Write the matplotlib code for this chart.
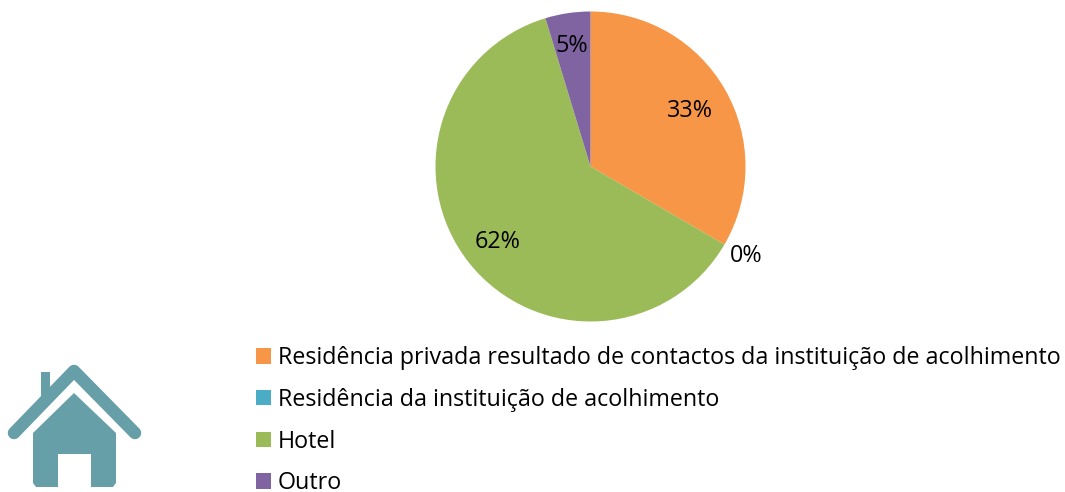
import matplotlib
matplotlib.use("Agg")
import matplotlib.pyplot as plt
from matplotlib.patches import Polygon, Rectangle
from matplotlib.lines import Line2D

categories = ["Residência privada resultado de contactos da instituição de acolhimento",
              "Residência da instituição de acolhimento", "Hotel", "Outro"]
values = [33.4, 0.0, 61.9, 4.7]
colors = ["#F79646", "#4BACC6", "#9BBB59", "#8064A2"]
label_px = [(690, 111), (746, 256), (498, 242), (572, 46)]

W, H = 1065, 492
plt.rcParams["font.family"] = ["Open Sans", "DejaVu Sans"]
fig = plt.figure(figsize=(W / 100, H / 100), dpi=100)

# overlay in pixel coordinates for the icon
bg = fig.add_axes([0, 0, 1, 1])
bg.set_xlim(0, W)
bg.set_ylim(H, 0)
bg.axis("off")

cx, cy, r = 590.5, 166.5, 155
ax = fig.add_axes([(cx - r) / W, 1 - (cy + r) / H, 2 * r / W, 2 * r / H])
wedges, _, autotexts = ax.pie(values, colors=colors, startangle=90, counterclock=False,
                              radius=1, autopct="%.0f%%",
                              textprops=dict(fontsize=16.8, color="black"))
ax.set_xlim(-1, 1)
ax.set_ylim(-1, 1)
for t, (px, py) in zip(autotexts, label_px):
    t.set_position(((px - cx) / r, (cy - py) / r))
    t.set_ha("center")
    t.set_va("center")
    t.set_clip_on(False)

leg = fig.legend(wedges, categories, loc="upper left",
                 bbox_to_anchor=(246.7 / W, 1 - 337 / H), frameon=False,
                 fontsize=16.78, handlelength=0.645, handleheight=0.645,
                 handletextpad=0.3, labelspacing=0.755, borderpad=0.4, borderaxespad=0)

# house icon
c = "#669FA8"
bg.add_patch(Rectangle((41, 372), 9, 24, fc=c, ec="none"))
bg.add_line(Line2D([14, 74, 135], [433, 371, 433], color=c, lw=9,
                   solid_capstyle="round", solid_joinstyle="round"))
bg.add_patch(Polygon([(33, 433), (74, 393), (116, 433), (116, 483), (113, 487), (91, 487), (91, 454),
                      (58, 454), (58, 487), (36, 487), (33, 483)], closed=True, fc=c, ec="none"))

fig.savefig("out.png", dpi=100)
